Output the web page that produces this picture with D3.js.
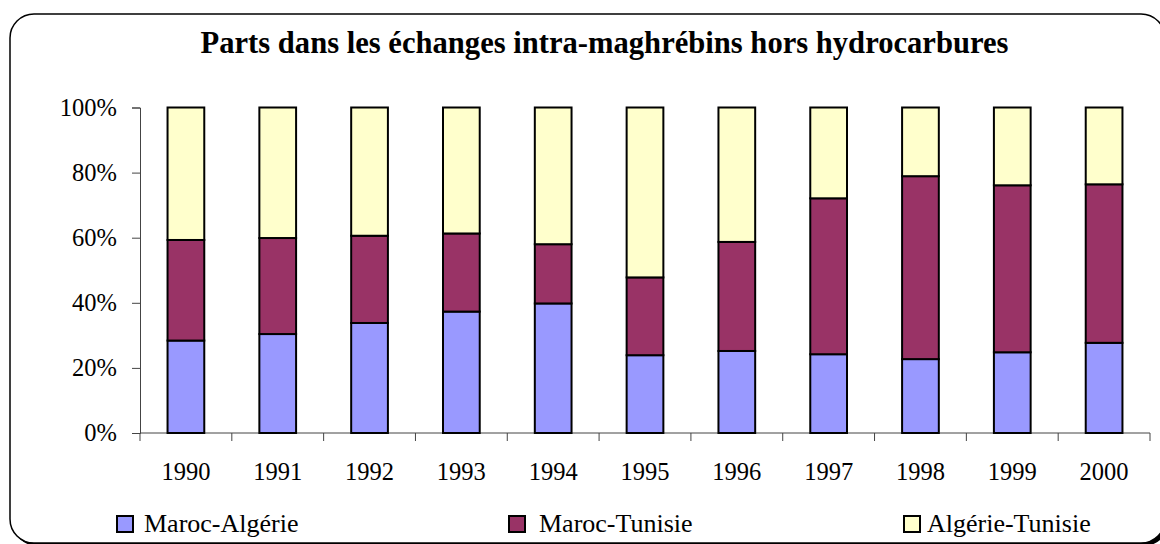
<!DOCTYPE html>
<html>
<head>
<meta charset="utf-8">
<script src="https://cdn.jsdelivr.net/npm/d3@7"></script>
<style>
  body { margin: 0; background: #fff; }
  text { font-family: "Liberation Serif", "Times New Roman", serif; fill: #000; }
</style>
</head>
<body>
<div id="chart"></div>
<script>
var years = ["1990", "1991", "1992", "1993", "1994", "1995", "1996", "1997", "1998", "1999", "2000"];
var seriesNames = ["Maroc-Algérie", "Maroc-Tunisie", "Algérie-Tunisie"];
// shares in percent
var marocAlgerie   = [28.4, 30.4, 33.8, 37.3, 39.8, 23.9, 25.2, 24.2, 22.7, 24.8, 27.7];
var marocTunisie   = [30.9, 29.5, 26.8, 24.0, 18.2, 23.9, 33.5, 47.9, 56.2, 51.3, 48.7];
var algerieTunisie = [40.7, 40.1, 39.4, 38.7, 42.0, 52.2, 41.3, 27.9, 21.1, 23.9, 23.6];
var yTicks = [0, 0.2, 0.4, 0.6, 0.8, 1];

var width = 1160,
    height = 544,
    margin = {top: 107.5, right: 10, bottom: 111, left: 140};

var colorScale = d3.scaleOrdinal()
    .domain(seriesNames)
    .range(["#9999ff", "#993366", "#ffffcc"]);

var rows = years.map(function(y, i) {
    var r = {year: y};
    r[seriesNames[0]] = marocAlgerie[i];
    r[seriesNames[1]] = marocTunisie[i];
    r[seriesNames[2]] = algerieTunisie[i];
    return r;
});

var stack = d3.stack()
    .keys(seriesNames)
    .offset(d3.stackOffsetExpand);

var xScale = d3.scaleBand()
    .domain(years)
    .range([margin.left, width - margin.right])
    .paddingInner(0.6)
    .paddingOuter(0.3);

var yScale = d3.scaleLinear()
    .domain([0, 1])
    .range([height - margin.bottom, margin.top]);

var svg = d3.select("#chart")
    .append("svg")
    .attr("width", width)
    .attr("height", height);

// chart area frame with a small shadow
svg.append("rect")
    .attr("x", 13).attr("y", 17)
    .attr("width", 1155).attr("height", 529)
    .attr("rx", 24).attr("ry", 24)
    .attr("fill", "#000");
svg.append("rect")
    .attr("x", 10).attr("y", 14)
    .attr("width", 1155).attr("height", 529)
    .attr("rx", 24).attr("ry", 24)
    .attr("fill", "#fff")
    .attr("stroke", "#000")
    .attr("stroke-width", 1.5);

svg.append("text")
    .attr("x", 604.5)
    .attr("y", 53)
    .attr("text-anchor", "middle")
    .style("font-size", "30.6px")
    .style("font-weight", "bold")
    .text("Parts dans les échanges intra-maghrébins hors hydrocarbures");

// y axis
var yAxis = svg.append("g")
    .attr("transform", "translate(" + margin.left + ",0)")
    .call(d3.axisLeft(yScale).tickValues(yTicks).tickFormat(d3.format(".0%")).tickSize(8).tickPadding(15));
yAxis.selectAll("text").style("font-size", "24.5px");
yAxis.selectAll("line, path").attr("stroke", "#444");

// x axis: ticks between categories, labels under the bars
var x0 = yScale(0);
var xRange = xScale.range();

svg.append("line")
    .attr("x1", xRange[0]).attr("x2", xRange[1])
    .attr("y1", x0).attr("y2", x0)
    .attr("stroke", "#444");

svg.append("g").selectAll("line")
    .data(d3.range(years.length + 1))
    .enter()
    .append("line")
    .attr("x1", function(i) { return xRange[0] + i * xScale.step(); })
    .attr("x2", function(i) { return xRange[0] + i * xScale.step(); })
    .attr("y1", x0).attr("y2", x0 + 8)
    .attr("stroke", "#444");

svg.append("g").selectAll("text")
    .data(years)
    .enter()
    .append("text")
    .attr("x", function(d) { return xScale(d) + xScale.bandwidth() / 2; })
    .attr("y", 480)
    .attr("text-anchor", "middle")
    .style("font-size", "24.5px")
    .text(function(d) { return d; });

// bars
var slices = svg.selectAll(".serie")
    .data(stack(rows))
    .enter()
    .append("g")
    .attr("class", "serie")
    .attr("fill", function(d) { return colorScale(d.key); });

slices.selectAll("rect")
    .data(function(d) { return d; })
    .enter()
    .append("rect")
    .attr("x", function(d) { return xScale(d.data.year); })
    .attr("y", function(d) { return yScale(d[1]); })
    .attr("width", xScale.bandwidth())
    .attr("height", function(d) { return yScale(d[0]) - yScale(d[1]); })
    .attr("stroke", "#000")
    .attr("stroke-width", 2);

// legend
var legendX = [{sq: 117, tx: 144}, {sq: 509, tx: 539}, {sq: 904, tx: 927}];
var legend = svg.append("g").selectAll("g")
    .data(seriesNames)
    .enter()
    .append("g");

legend.append("rect")
    .attr("x", function(d, i) { return legendX[i].sq; })
    .attr("y", 516)
    .attr("width", 16)
    .attr("height", 16)
    .attr("fill", function(d) { return colorScale(d); })
    .attr("stroke", "#000")
    .attr("stroke-width", 2);

legend.append("text")
    .attr("x", function(d, i) { return legendX[i].tx; })
    .attr("y", 532)
    .style("font-size", "26px")
    .text(function(d) { return d; });
</script>
</body>
</html>
